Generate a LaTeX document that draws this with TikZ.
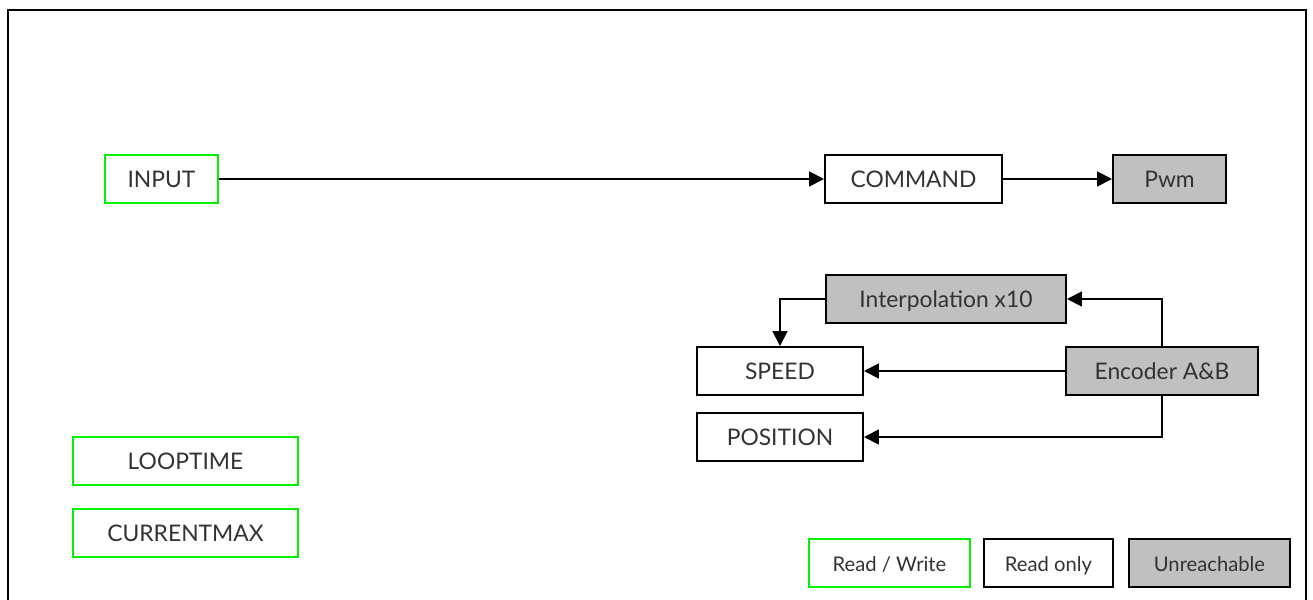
\documentclass[tikz,border=0pt]{standalone}
\usepackage{fontspec}
\setmainfont{Lato}
\usetikzlibrary{arrows.meta}

\definecolor{rwgreen}{RGB}{0,240,0}
\definecolor{nogray}{RGB}{192,192,192}
\definecolor{txtgray}{RGB}{50,50,50}

\begin{document}
\begin{tikzpicture}[x=0.02cm, y=-0.02cm]

\tikzstyle{reg}=[rectangle, draw, line width=0.04cm, minimum height=0.96cm, inner sep=0pt, text height=1.9ex, text depth=0.1ex, text=txtgray, font=\fontsize{13}{15}\selectfont]
\tikzstyle{rw}=[reg, draw=rwgreen]
\tikzstyle{ro}=[reg, draw=black]
\tikzstyle{na}=[reg, draw=black, fill=nogray]
\tikzstyle{arrow}=[-{Triangle[length=0.3cm, width=0.3cm]}, line width=0.035cm]

\clip (0,0) rectangle (1313,599);
\draw [line width=0.045cm] (8,10) rectangle (1306,640);

% command path
\node (IN) [rw, minimum width=2.26cm]  at (161.5,179) {INPUT};
\node (CMD)[ro, minimum width=3.54cm]  at (913.5,179) {COMMAND};
\node (PWM)[na, minimum width=2.26cm]  at (1169.5,179) {Pwm};

% measures
\node (INT)[na, minimum width=4.80cm]  at (946,299)   {Interpolation x10};
\node (SPD)[ro, minimum width=3.32cm]  at (780,371)   {SPEED};
\node (ENC)[na, minimum width=3.84cm]  at (1162,371)  {Encoder A\&B};
\node (POS)[ro, minimum width=3.32cm]  at (780,437)   {POSITION};

% settings
\node (LT) [rw, minimum width=4.50cm]  at (185.5,461) {LOOPTIME};
\node (CM) [rw, minimum width=4.50cm]  at (185.5,533) {CURRENTMAX};

% legend
\node (LRW)[rw, minimum width=3.22cm, font=\fontsize{11.5}{14}\selectfont] at (889.5,563)  {Read / Write};
\node (LRO)[ro, minimum width=2.58cm, font=\fontsize{11.5}{14}\selectfont] at (1048.5,563) {Read only};
\node (LNA)[na, minimum width=3.22cm, font=\fontsize{11.5}{14}\selectfont] at (1209.5,563) {Unreachable};

\draw [arrow] (IN)  -- (CMD);
\draw [arrow] (CMD) -- (PWM);
\draw [arrow] (ENC.north) |- (INT.east);
\draw [arrow] (INT.west) -| (SPD.north);
\draw [arrow] (ENC.west) -- (SPD.east);
\draw [arrow] (ENC.south) |- (POS.east);

\end{tikzpicture}
\end{document}
